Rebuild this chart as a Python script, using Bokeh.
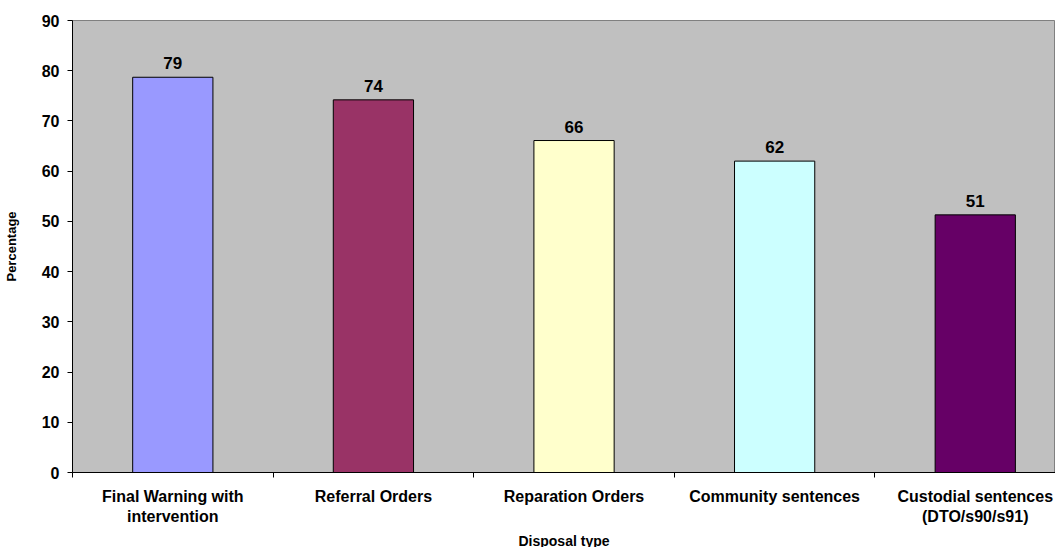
from bokeh.plotting import figure
from bokeh.models import ColumnDataSource, FixedTicker, Range1d
from bokeh.core.properties import value
from bokeh.embed import file_html
from bokeh.resources import INLINE

categories = ["Final Warning with\nintervention", "Referral Orders", "Reparation Orders",
              "Community sentences", "Custodial sentences\n(DTO/s90/s91)"]
values = [78.7, 74.2, 66.1, 62.0, 51.3]
value_labels = ["79", "74", "66", "62", "51"]
colors = ["#9999FF", "#993366", "#FFFFCC", "#CCFFFF", "#660066"]
y_ticks = [0, 10, 20, 30, 40, 50, 60, 70, 80, 90]

FONT = "Liberation Sans"

xs = [i + 0.5 for i in range(len(categories))]
src = ColumnDataSource(dict(x=xs, top=values, color=colors, label=value_labels))

p = figure(frame_width=983, frame_height=452, output_backend="svg", toolbar_location=None,
           x_range=Range1d(0, 4.9), y_range=Range1d(0, 90),
           min_border_left=69, min_border_top=20, min_border_right=0, min_border_bottom=0)

p.background_fill_color = "#C0C0C0"
p.border_fill_color = "white"
p.outline_line_color = "#808080"
p.xgrid.visible = False
p.ygrid.visible = False

p.vbar(x="x", top="top", bottom=0, width=0.4, fill_color="color",
       line_color="black", line_width=1, source=src)
p.text(x="x", y="top", text="label", source=src, text_align="center",
       text_baseline="bottom", y_offset=-8, text_font=value(FONT),
       text_font_style="bold", text_font_size="17px", text_color="black")

# x axis
p.xaxis.ticker = FixedTicker(ticks=xs, minor_ticks=list(range(len(categories) + 1)))
p.xaxis.major_label_overrides = {x: c for x, c in zip(xs, categories)}
p.xaxis.major_tick_line_color = None
p.xaxis.major_tick_in = 0
p.xaxis.major_tick_out = 0
p.xaxis.minor_tick_in = 0
p.xaxis.minor_tick_out = 5
p.xaxis.minor_tick_line_color = "black"
p.xaxis.axis_line_color = "black"
p.xaxis.major_label_standoff = 10
p.xaxis.major_label_text_font = FONT
p.xaxis.major_label_text_font_style = "bold"
p.xaxis.major_label_text_font_size = "16px"
p.xaxis.major_label_text_color = "black"
p.xaxis.axis_label = "Disposal type"
p.xaxis.axis_label_text_font = FONT
p.xaxis.axis_label_text_font_style = "bold"
p.xaxis.axis_label_text_font_size = "14px"
p.xaxis.axis_label_text_color = "black"
p.xaxis.axis_label_standoff = 5

# y axis
p.yaxis.ticker = FixedTicker(ticks=y_ticks, minor_ticks=[])
p.yaxis.major_tick_in = 0
p.yaxis.major_tick_out = 5
p.yaxis.major_tick_line_color = "black"
p.yaxis.axis_line_color = "black"
p.yaxis.major_label_standoff = 8
p.yaxis.major_label_text_font = FONT
p.yaxis.major_label_text_font_style = "bold"
p.yaxis.major_label_text_font_size = "16px"
p.yaxis.major_label_text_color = "black"
p.yaxis.axis_label = "Percentage"
p.yaxis.axis_label_text_font = FONT
p.yaxis.axis_label_text_font_style = "bold"
p.yaxis.axis_label_text_font_size = "13px"
p.yaxis.axis_label_text_color = "black"
p.yaxis.axis_label_standoff = 20

open("out.html", "w").write(file_html(p, INLINE))
